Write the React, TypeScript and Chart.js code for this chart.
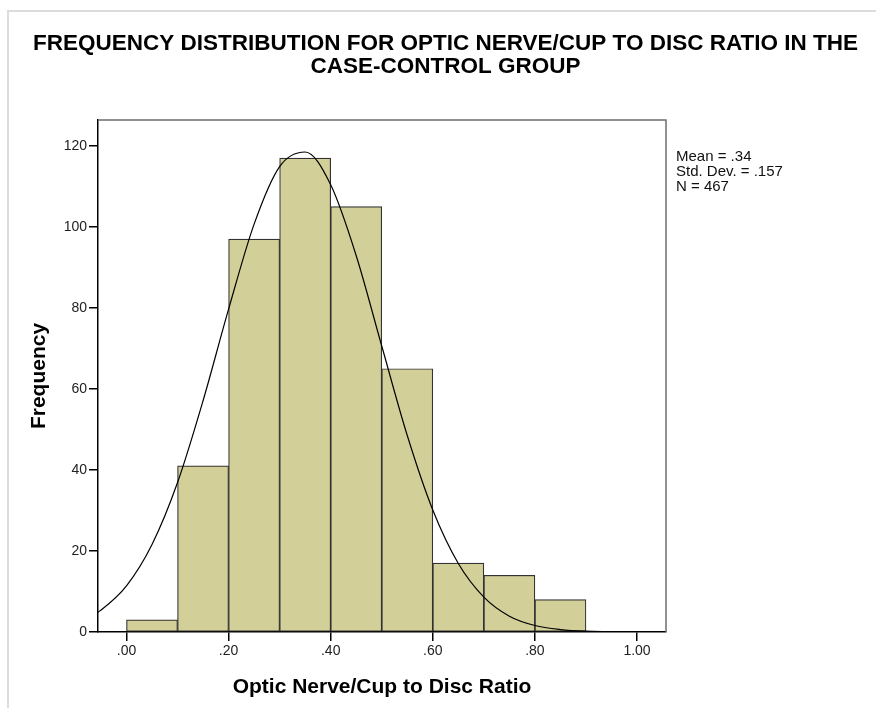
import React, { useEffect, useRef } from "react";
import { Chart, registerables } from "chart.js";

Chart.register(...registerables);

const TITLE_LINES = [
  "FREQUENCY DISTRIBUTION FOR OPTIC NERVE/CUP TO DISC RATIO IN THE",
  "CASE-CONTROL GROUP",
];
const STATS_LINES = ["Mean = .34", "Std. Dev. = .157", "N = 467"];
const X_TITLE = "Optic Nerve/Cup to Disc Ratio";
const Y_TITLE = "Frequency";

// histogram bins (centres) and frequencies
const binCentres = [0.05, 0.15, 0.25, 0.35, 0.45, 0.55, 0.65, 0.75, 0.85];
const binCounts = [3, 41, 97, 117, 105, 65, 17, 14, 8];

// normal curve
const curveX = [
  -0.06, -0.05, 0, 0.05, 0.1, 0.15, 0.2, 0.25, 0.3, 0.35, 0.4, 0.45, 0.5,
  0.55, 0.6, 0.65, 0.7, 0.75, 0.8, 0.85, 0.9, 0.95, 1.0, 1.06,
];
const curveY = [
  4.6, 5.4, 11.4, 21.6, 36.9, 57.1, 79.7, 100.7, 114.9, 118.5, 110.4, 92.9,
  70.6, 48.5, 30.1, 16.9, 8.6, 3.9, 1.6, 0.6, 0.2, 0.1, 0, 0,
];

const X_MIN = -0.0558;
const X_MAX = 1.0568;
const Y_MIN = 0;
const Y_MAX = 126.4;

const FONT = "'Liberation Sans', Arial, sans-serif";

const decorPlugin = {
  id: "decor",
  beforeDraw(chart: any) {
    const ctx = chart.ctx;
    ctx.save();
    ctx.fillStyle = "#ffffff";
    ctx.fillRect(0, 0, chart.width, chart.height);
    ctx.strokeStyle = "#dcdcdc";
    ctx.lineWidth = 2;
    ctx.beginPath();
    ctx.moveTo(8, chart.height);
    ctx.lineTo(8, 11);
    ctx.lineTo(chart.width, 11);
    ctx.stroke();
    ctx.restore();
  },
  afterDraw(chart: any) {
    const ctx = chart.ctx;
    const a = chart.chartArea;
    ctx.save();
    // plot frame top / right
    ctx.strokeStyle = "#6e6e6e";
    ctx.lineWidth = 1.5;
    ctx.beginPath();
    ctx.moveTo(a.left, a.top);
    ctx.lineTo(a.right, a.top);
    ctx.lineTo(a.right, a.bottom);
    ctx.stroke();
    // title
    ctx.fillStyle = "#000000";
    ctx.font = `bold 22.5px ${FONT}`;
    ctx.textAlign = "center";
    ctx.textBaseline = "middle";
    ctx.fillText(TITLE_LINES[0], 445.5, 43.5);
    ctx.fillText(TITLE_LINES[1], 445.5, 67);
    // stats
    ctx.font = `15px ${FONT}`;
    ctx.fillStyle = "#111111";
    ctx.textAlign = "left";
    STATS_LINES.forEach((t, i) => {
      ctx.fillText(t, 676, 156.5 + i * 15);
    });
    ctx.restore();
  },
};

function fmtTick(v: number): string {
  const s = v.toFixed(2);
  return s.startsWith("0") ? s.slice(1) : s;
}

export default function App() {
  const ref = useRef<HTMLCanvasElement | null>(null);

  useEffect(() => {
    if (!ref.current) return;
    const chart = new Chart(ref.current, {
      type: "bar",
      data: {
        datasets: [
          {
            type: "line",
            data: curveX.map((x, i) => ({ x, y: curveY[i] })),
            borderColor: "#000000",
            borderWidth: 1.2,
            pointRadius: 0,
            fill: false,
            cubicInterpolationMode: "monotone",
            order: 0,
          } as any,
          {
            type: "bar",
            data: binCentres.map((x, i) => ({ x, y: binCounts[i] })),
            backgroundColor: "#d3cf99",
            borderColor: "#333333",
            borderWidth: 1.2,
            borderSkipped: false,
            barPercentage: 1,
            categoryPercentage: 1,
            order: 1,
          } as any,
        ],
      },
      options: {
        animation: false,
        responsive: false,
        maintainAspectRatio: false,
        layout: { padding: { left: 0, right: 210, top: 120, bottom: 0 } },
        plugins: {
          legend: { display: false },
          title: { display: false },
          tooltip: { enabled: false },
        },
        scales: {
          x: {
            type: "linear",
            min: X_MIN,
            max: X_MAX,
            offset: false,
            afterFit: (s: any) => {
              s.height = 76;
            },
            ticks: {
              stepSize: 0.2,
              includeBounds: false,
              autoSkip: false,
              maxRotation: 0,
              padding: 2,
              color: "#222222",
              font: { family: FONT, size: 14 },
              callback: (v: any) => fmtTick(Number(v)),
            },
            grid: {
              offset: false,
              drawOnChartArea: false,
              drawTicks: true,
              tickLength: 9,
              color: "#000000",
              lineWidth: 1.5,
            },
            border: { display: true, color: "#000000", width: 1.5 },
            title: {
              display: true,
              text: X_TITLE,
              color: "#000000",
              font: { family: FONT, size: 21, weight: "bold" },
              padding: { top: 0, bottom: 8 },
            },
          },
          y: {
            type: "linear",
            min: Y_MIN,
            max: Y_MAX,
            afterFit: (s: any) => {
              s.width = 98;
            },
            ticks: {
              stepSize: 20,
              includeBounds: false,
              padding: 2,
              color: "#222222",
              font: { family: FONT, size: 14 },
            },
            grid: {
              drawOnChartArea: false,
              drawTicks: true,
              tickLength: 9,
              color: "#000000",
              lineWidth: 1.5,
            },
            border: { display: true, color: "#000000", width: 1.5 },
            title: {
              display: true,
              text: Y_TITLE,
              color: "#000000",
              font: { family: FONT, size: 21, weight: "bold" },
              padding: { top: 26.5, bottom: 0 },
            },
          },
        },
      },
      plugins: [decorPlugin],
    });
    return () => chart.destroy();
  }, []);

  return (
    <div style={{ position: "absolute", left: 0, top: 0, width: 876, height: 708 }}>
      <canvas ref={ref} width={876} height={708} style={{ width: 876, height: 708 }} />
    </div>
  );
}
